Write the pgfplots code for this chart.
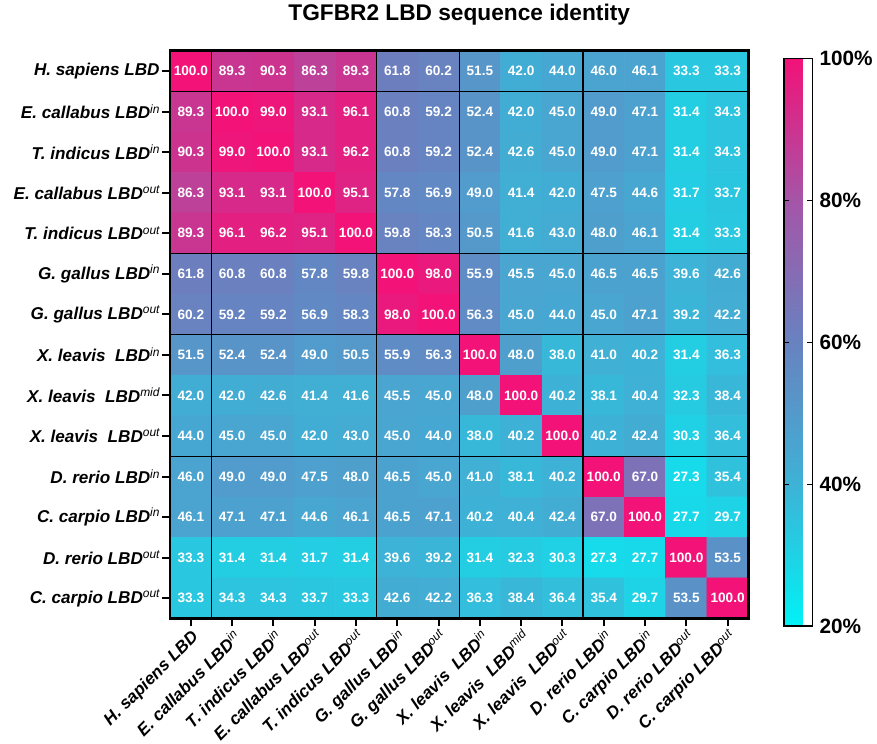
\documentclass[border=0pt]{standalone}
\usepackage{pgfplots}
\pgfplotsset{compat=1.18}
\usepackage{fontspec}
\setmainfont{Liberation Sans}
\pgfplotsset{/pgf/number format/assume math mode=true}

% species label: bold italic name, light italic superscript
\newcommand{\lbl}[2]{\textbf{\textit{#1}}\textsuperscript{\normalfont\itshape #2}}
\newcommand{\ticklabelfont}{\fontsize{13.2}{16}\selectfont\bfseries\itshape}
\newcommand{\cbarfont}{\fontsize{16}{18}\selectfont\bfseries}

\begin{document}
\begin{tikzpicture}
\begin{axis}[
  width=446pt, height=438pt, scale only axis,
  xmin=-0.5, xmax=13.5, ymin=-0.5, ymax=13.5,
  y dir=reverse,
  enlargelimits=false,
  axis line style={line width=2pt},
  xtick={0,...,13}, ytick={0,...,13},
  xticklabels={
    \lbl{H. sapiens LBD}{},
    \lbl{E. callabus LBD}{in},
    \lbl{T. indicus LBD}{in},
    \lbl{E. callabus LBD}{out},
    \lbl{T. indicus LBD}{out},
    \lbl{G. gallus LBD}{in},
    \lbl{G. gallus LBD}{out},
    \lbl{X. leavis\ \ LBD}{in},
    \lbl{X. leavis\ \ LBD}{mid},
    \lbl{X. leavis\ \ LBD}{out},
    \lbl{D. rerio LBD}{in},
    \lbl{C. carpio LBD}{in},
    \lbl{D. rerio LBD}{out},
    \lbl{C. carpio LBD}{out}},
  yticklabels={
    \lbl{H. sapiens LBD}{},
    \lbl{E. callabus LBD}{in},
    \lbl{T. indicus LBD}{in},
    \lbl{E. callabus LBD}{out},
    \lbl{T. indicus LBD}{out},
    \lbl{G. gallus LBD}{in},
    \lbl{G. gallus LBD}{out},
    \lbl{X. leavis\ \ LBD}{in},
    \lbl{X. leavis\ \ LBD}{mid},
    \lbl{X. leavis\ \ LBD}{out},
    \lbl{D. rerio LBD}{in},
    \lbl{C. carpio LBD}{in},
    \lbl{D. rerio LBD}{out},
    \lbl{C. carpio LBD}{out}},
  tick align=outside, xtick pos=bottom, ytick pos=left,
  major tick length=6pt,
  tick style={line width=1.5pt, black},
  x tick label style={rotate=45, anchor=north east, font=\ticklabelfont, inner sep=1pt},
  y tick label style={font=\ticklabelfont, inner sep=1.5pt},
  title={TGFBR2 LBD sequence identity},
  title style={font=\bfseries\fontsize{17.5}{20}\selectfont, yshift=10pt},
  colormap={identity}{rgb255(0cm)=(0,242,245); rgb255(1cm)=(62,178,214);
     rgb255(2cm)=(104,130,192); rgb255(3cm)=(165,85,168); rgb255(4cm)=(242,18,120)},
  point meta min=20, point meta max=100,
  colorbar,
  colorbar style={
    width=22pt,
    at={(parent axis.north east)}, anchor=north west, xshift=19pt, yshift=-6pt,
    ytick={20,40,60,80,100},
    yticklabel={\cbarfont\pgfmathprintnumber{\tick}\%},
    yticklabel style={xshift=2pt},
    axis line style={line width=1.2pt},
    tick align=inside, major tick length=4pt,
    tick style={black, line width=0.8pt},
    extra y ticks={40,60,80}, extra y tick labels={},
    extra y tick style={ytick pos=left, tick align=inside},
  },
  extra x ticks={0.5,4.5,6.5,9.5}, extra x tick labels={},
  extra y ticks={0.5,4.5,6.5,9.5}, extra y tick labels={},
  extra x tick style={grid=major, major tick length=0pt, major grid style={black, line width=1pt}},
  extra y tick style={grid=major, major tick length=0pt, major grid style={black, line width=1pt}},
  axis on top,
  nodes near coords={\pgfmathprintnumber[fixed,fixed zerofill,precision=1,assume math mode=true]{\pgfplotspointmeta}},
  nodes near coords align={center},
  every node near coord/.append style={anchor=center, text=white,
    font=\bfseries\fontsize{10.5}{12}\selectfont},
]
\addplot[matrix plot*, mesh/cols=14, point meta=explicit] coordinates {
(0,0)[100.0] (1,0)[89.3] (2,0)[90.3] (3,0)[86.3] (4,0)[89.3] (5,0)[61.8] (6,0)[60.2] (7,0)[51.5] (8,0)[42.0] (9,0)[44.0] (10,0)[46.0] (11,0)[46.1] (12,0)[33.3] (13,0)[33.3]
(0,1)[89.3] (1,1)[100.0] (2,1)[99.0] (3,1)[93.1] (4,1)[96.1] (5,1)[60.8] (6,1)[59.2] (7,1)[52.4] (8,1)[42.0] (9,1)[45.0] (10,1)[49.0] (11,1)[47.1] (12,1)[31.4] (13,1)[34.3]
(0,2)[90.3] (1,2)[99.0] (2,2)[100.0] (3,2)[93.1] (4,2)[96.2] (5,2)[60.8] (6,2)[59.2] (7,2)[52.4] (8,2)[42.6] (9,2)[45.0] (10,2)[49.0] (11,2)[47.1] (12,2)[31.4] (13,2)[34.3]
(0,3)[86.3] (1,3)[93.1] (2,3)[93.1] (3,3)[100.0] (4,3)[95.1] (5,3)[57.8] (6,3)[56.9] (7,3)[49.0] (8,3)[41.4] (9,3)[42.0] (10,3)[47.5] (11,3)[44.6] (12,3)[31.7] (13,3)[33.7]
(0,4)[89.3] (1,4)[96.1] (2,4)[96.2] (3,4)[95.1] (4,4)[100.0] (5,4)[59.8] (6,4)[58.3] (7,4)[50.5] (8,4)[41.6] (9,4)[43.0] (10,4)[48.0] (11,4)[46.1] (12,4)[31.4] (13,4)[33.3]
(0,5)[61.8] (1,5)[60.8] (2,5)[60.8] (3,5)[57.8] (4,5)[59.8] (5,5)[100.0] (6,5)[98.0] (7,5)[55.9] (8,5)[45.5] (9,5)[45.0] (10,5)[46.5] (11,5)[46.5] (12,5)[39.6] (13,5)[42.6]
(0,6)[60.2] (1,6)[59.2] (2,6)[59.2] (3,6)[56.9] (4,6)[58.3] (5,6)[98.0] (6,6)[100.0] (7,6)[56.3] (8,6)[45.0] (9,6)[44.0] (10,6)[45.0] (11,6)[47.1] (12,6)[39.2] (13,6)[42.2]
(0,7)[51.5] (1,7)[52.4] (2,7)[52.4] (3,7)[49.0] (4,7)[50.5] (5,7)[55.9] (6,7)[56.3] (7,7)[100.0] (8,7)[48.0] (9,7)[38.0] (10,7)[41.0] (11,7)[40.2] (12,7)[31.4] (13,7)[36.3]
(0,8)[42.0] (1,8)[42.0] (2,8)[42.6] (3,8)[41.4] (4,8)[41.6] (5,8)[45.5] (6,8)[45.0] (7,8)[48.0] (8,8)[100.0] (9,8)[40.2] (10,8)[38.1] (11,8)[40.4] (12,8)[32.3] (13,8)[38.4]
(0,9)[44.0] (1,9)[45.0] (2,9)[45.0] (3,9)[42.0] (4,9)[43.0] (5,9)[45.0] (6,9)[44.0] (7,9)[38.0] (8,9)[40.2] (9,9)[100.0] (10,9)[40.2] (11,9)[42.4] (12,9)[30.3] (13,9)[36.4]
(0,10)[46.0] (1,10)[49.0] (2,10)[49.0] (3,10)[47.5] (4,10)[48.0] (5,10)[46.5] (6,10)[45.0] (7,10)[41.0] (8,10)[38.1] (9,10)[40.2] (10,10)[100.0] (11,10)[67.0] (12,10)[27.3] (13,10)[35.4]
(0,11)[46.1] (1,11)[47.1] (2,11)[47.1] (3,11)[44.6] (4,11)[46.1] (5,11)[46.5] (6,11)[47.1] (7,11)[40.2] (8,11)[40.4] (9,11)[42.4] (10,11)[67.0] (11,11)[100.0] (12,11)[27.7] (13,11)[29.7]
(0,12)[33.3] (1,12)[31.4] (2,12)[31.4] (3,12)[31.7] (4,12)[31.4] (5,12)[39.6] (6,12)[39.2] (7,12)[31.4] (8,12)[32.3] (9,12)[30.3] (10,12)[27.3] (11,12)[27.7] (12,12)[100.0] (13,12)[53.5]
(0,13)[33.3] (1,13)[34.3] (2,13)[34.3] (3,13)[33.7] (4,13)[33.3] (5,13)[42.6] (6,13)[42.2] (7,13)[36.3] (8,13)[38.4] (9,13)[36.4] (10,13)[35.4] (11,13)[29.7] (12,13)[53.5] (13,13)[100.0]
};
\end{axis}
% blank margin on the left
\path (current bounding box.west) ++(-9pt,0);
\end{tikzpicture}
\end{document}
